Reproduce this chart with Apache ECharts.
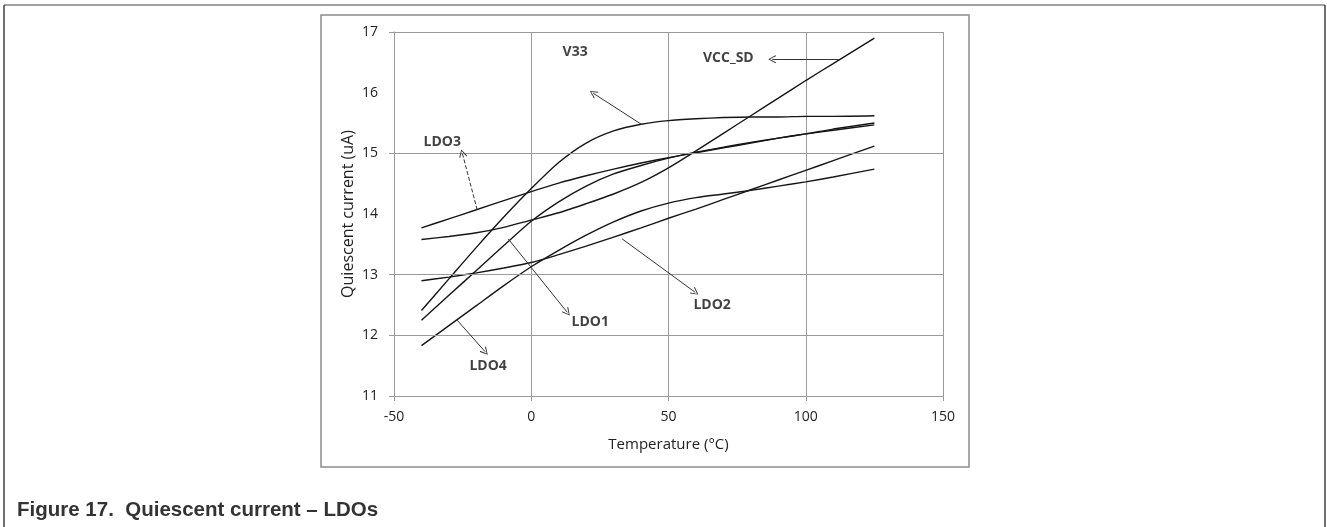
<!DOCTYPE html>
<html>
<head>
<meta charset="utf-8">
<script src="https://cdn.jsdelivr.net/npm/echarts@6/dist/echarts.min.js"></script>
<style>
  html, body { margin: 0; padding: 0; background: #fff; }
  #chart { width: 1327px; height: 527px; }
</style>
</head>
<body>
<div id="chart"></div>
<script>
// Temperature sweep (°C) shared by every curve
const temps = [-40, -30, -20, -10, 0, 10, 20, 30, 40, 50, 60, 70, 80, 90, 100, 110, 125];

// Quiescent current (uA) per regulator
const vccSd = [13.58, 13.63, 13.69, 13.78, 13.90, 14.02, 14.17, 14.33, 14.52, 14.76, 15.04, 15.33, 15.62, 15.91, 16.20, 16.48, 16.90];
const v33   = [12.41, 12.93, 13.45, 13.95, 14.42, 14.85, 15.17, 15.37, 15.48, 15.54, 15.57, 15.59, 15.60, 15.60, 15.61, 15.61, 15.62];
const ldo1  = [12.25, 12.66, 13.07, 13.48, 13.88, 14.20, 14.46, 14.66, 14.80, 14.92, 15.02, 15.10, 15.18, 15.25, 15.32, 15.38, 15.47];
const ldo2  = [12.90, 12.96, 13.03, 13.11, 13.20, 13.33, 13.47, 13.62, 13.77, 13.93, 14.08, 14.24, 14.40, 14.56, 14.72, 14.88, 15.12];
const ldo3  = [13.77, 13.92, 14.07, 14.22, 14.37, 14.51, 14.63, 14.74, 14.84, 14.93, 15.01, 15.09, 15.17, 15.25, 15.32, 15.40, 15.50];
const ldo4  = [11.83, 12.16, 12.49, 12.82, 13.13, 13.40, 13.65, 13.87, 14.05, 14.18, 14.27, 14.33, 14.39, 14.46, 14.53, 14.61, 14.74];

const seriesNames = ['VCC_SD', 'V33', 'LDO1', 'LDO2', 'LDO3', 'LDO4'];
const seriesValues = [vccSd, v33, ldo1, ldo2, ldo3, ldo4];

// Axis ticks
const xTicks = [-50, 0, 50, 100, 150];
const yTicks = [11, 12, 13, 14, 15, 16, 17];
const yGridValues = [11, 12, 13, 15, 17];

// Callout labels: label anchor, arrow tail (on curve) and arrow head, in data units
const calloutNames = ['V33', 'VCC_SD', 'LDO3', 'LDO1', 'LDO4', 'LDO2'];
const calloutLabelAt = [[16, 16.67], [71.8, 16.57], [-32.4, 15.19], [21.5, 12.22], [-15.7, 11.49], [65.9, 12.50]];
const calloutTail = [[40.4, 15.47], [112, 16.55], [-19.7, 14.07], [-8.4, 13.59], [-27, 12.25], [33.1, 13.59]];
const calloutHead = [[22.6, 15.99], [87.8, 16.55], [-25.1, 15.0], [13.1, 12.38], [-16.8, 11.73], [59.7, 12.71]];

const axisFont = '"Open Sans", "Liberation Sans", sans-serif';
const gridGray = '#9a9a9a';
// thin open chevron used as arrow head (tip at top)
const chevron = 'path://M5,0 L10,9 L9,10 L5,2 L1,10 L0,9 Z';

const chart = echarts.init(document.getElementById('chart'), null, { renderer: 'canvas' });

const curveSeries = seriesNames.map((name, i) => ({
  name: name,
  type: 'line',
  data: temps.map((t, k) => [t, seriesValues[i][k]]),
  smooth: 0.25,
  showSymbol: false,
  symbol: 'none',
  lineStyle: { color: '#151515', width: 1.4 },
  z: 3
}));

const calloutLines = {
  name: 'callouts',
  type: 'line',
  data: [],
  silent: true,
  markLine: {
    silent: true,
    symbol: ['none', chevron],
    symbolSize: [8, 8],
    label: { show: false },
    lineStyle: { color: '#333', width: 1, type: 'solid' },
    data: calloutNames.map((n, i) => [
      { coord: calloutTail[i], lineStyle: n === 'LDO3' ? { type: [4, 2] } : {} },
      { coord: calloutHead[i] }
    ])
  },
  z: 4
};

const calloutText = {
  name: 'calloutText',
  type: 'scatter',
  data: calloutNames.map((n, i) => [calloutLabelAt[i][0], calloutLabelAt[i][1], n]),
  symbolSize: 0,
  silent: true,
  label: {
    show: true,
    position: 'inside',
    formatter: p => p.value[2],
    fontFamily: axisFont,
    fontWeight: 'bold',
    fontSize: 14,
    color: '#111'
  },
  z: 5
};

const hGrid = {
  name: 'hgrid',
  type: 'line',
  data: [],
  silent: true,
  markLine: {
    silent: true,
    symbol: ['none', 'none'],
    label: { show: false },
    lineStyle: { color: gridGray, width: 1, type: 'solid' },
    data: yGridValues.map(v => ({ yAxis: v }))
  },
  z: 1
};

chart.setOption({
  animation: false,
  backgroundColor: '#fff',
  title: {
    text: 'Figure 17.  Quiescent current \u2013 LDOs',
    left: 12,
    top: 495,
    textStyle: {
      fontFamily: '"Liberation Sans", Arial, sans-serif',
      fontWeight: 'bold',
      fontSize: 20.5,
      color: '#333'
    }
  },
  graphic: [
    // page frame
    { type: 'line', shape: { x1: 4, y1: 5, x2: 1325, y2: 5 }, style: { stroke: '#a0a0a0', lineWidth: 2 } },
    { type: 'line', shape: { x1: 4, y1: 5, x2: 4, y2: 527 }, style: { stroke: '#404040', lineWidth: 1.5 } },
    { type: 'line', shape: { x1: 1325, y1: 5, x2: 1325, y2: 527 }, style: { stroke: '#404040', lineWidth: 1.5 } },
    // chart area frame
    { type: 'rect', shape: { x: 321, y: 15, width: 648, height: 452 }, style: { fill: 'none', stroke: '#8c8c8c', lineWidth: 1.5 }, z: -1 }
  ],
  grid: { left: 394, top: 32, width: 549, height: 364 },
  xAxis: {
    type: 'value',
    min: xTicks[0],
    max: xTicks[xTicks.length - 1],
    interval: 50,
    name: 'Temperature (\u00B0C)',
    nameLocation: 'middle',
    nameGap: 41,
    nameTextStyle: { fontFamily: axisFont, fontSize: 15, color: '#222' },
    axisLine: { show: true, onZero: false, lineStyle: { color: gridGray, width: 1 } },
    axisTick: { show: true, length: 5, lineStyle: { color: gridGray } },
    axisLabel: { margin: 14, fontFamily: axisFont, fontSize: 14, color: '#222' },
    splitLine: { show: true, lineStyle: { color: gridGray, width: 1 } }
  },
  yAxis: {
    type: 'value',
    min: yTicks[0],
    max: yTicks[yTicks.length - 1],
    interval: 1,
    name: 'Quiescent current (uA)',
    nameLocation: 'middle',
    nameGap: 38,
    nameTextStyle: { fontFamily: axisFont, fontSize: 16, color: '#222' },
    axisLine: { show: true, onZero: false, lineStyle: { color: gridGray, width: 1 } },
    axisTick: { show: true, length: 5, customValues: yGridValues, lineStyle: { color: gridGray } },
    axisLabel: { margin: 16, fontFamily: axisFont, fontSize: 14, color: '#222' },
    splitLine: { show: false }
  },
  series: [hGrid].concat(curveSeries, [calloutLines, calloutText])
});
</script>
</body>
</html>
